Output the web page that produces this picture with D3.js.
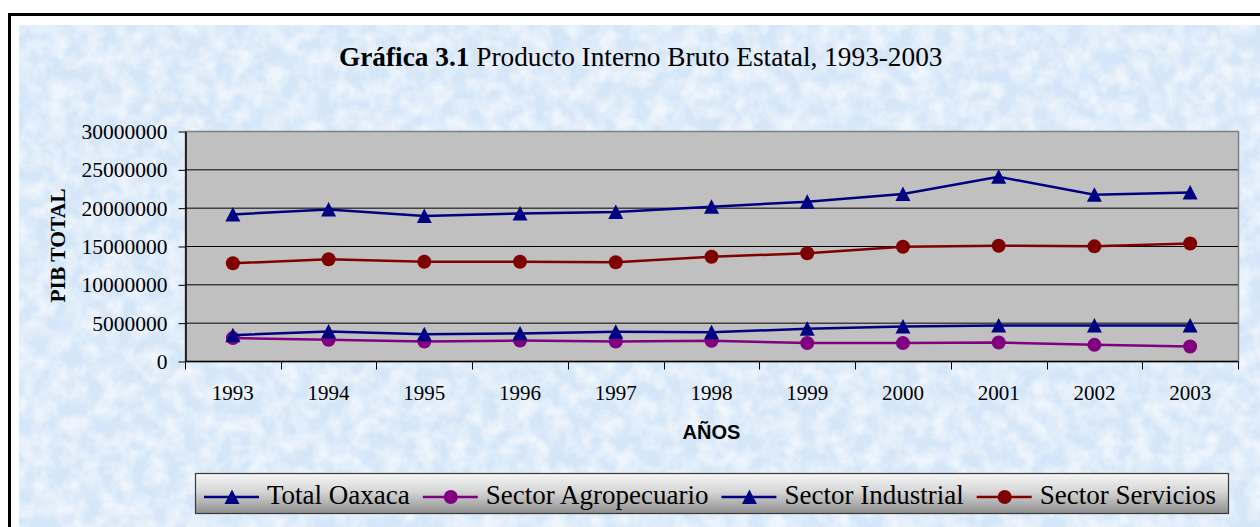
<!DOCTYPE html>
<html>
<head>
<meta charset="utf-8">
<script src="https://cdn.jsdelivr.net/npm/d3@7"></script>
<style>
  body { margin: 0; background: #fff; }
  svg { display: block; }
</style>
</head>
<body>
<div id="chart"></div>
<script>
// data
const years = ['1993', '1994', '1995', '1996', '1997', '1998', '1999', '2000', '2001', '2002', '2003'];
const totalOaxaca = [19190000, 19840000, 18970000, 19320000, 19490000, 20200000, 20830000, 21840000, 24090000, 21750000, 22050000];
const sectorAgropecuario = [3050000, 2830000, 2600000, 2730000, 2600000, 2700000, 2400000, 2400000, 2470000, 2170000, 1950000];
const sectorIndustrial = [3440000, 3900000, 3560000, 3650000, 3870000, 3830000, 4260000, 4560000, 4690000, 4690000, 4690000];
const sectorServicios = [12810000, 13330000, 13020000, 13020000, 12940000, 13670000, 14110000, 14970000, 15100000, 15020000, 15400000];
const yTicks = [0, 5000000, 10000000, 15000000, 20000000, 25000000, 30000000];

const series = [
  { name: 'Total Oaxaca', values: totalOaxaca, color: '#000080', shape: 'triangle' },
  { name: 'Sector Agropecuario', values: sectorAgropecuario, color: '#800080', shape: 'circle' },
  { name: 'Sector Industrial', values: sectorIndustrial, color: '#000080', shape: 'triangle' },
  { name: 'Sector Servicios', values: sectorServicios, color: '#800000', shape: 'circle' }
];

const W = 1260, H = 527;
const serif = '"Liberation Serif", "Times New Roman", serif';
const sans = '"Liberation Sans", Arial, sans-serif';

const svg = d3.select('#chart').append('svg')
  .attr('width', W)
  .attr('height', H);

const defs = svg.append('defs');

// cloudy light-blue paper texture
const tex = defs.append('filter').attr('id', 'clouds')
  .attr('x', 0).attr('y', 0).attr('width', 1).attr('height', 1);
tex.append('feTurbulence')
  .attr('type', 'fractalNoise')
  .attr('baseFrequency', 0.06)
  .attr('numOctaves', 4)
  .attr('seed', 3)
  .attr('result', 'noise');
tex.append('feColorMatrix')
  .attr('in', 'noise')
  .attr('type', 'matrix')
  .attr('values', '0 0 0 0 1  0 0 0 0 1  0 0 0 0 1  0 0 0 -2.2 1.5');

const lg = defs.append('linearGradient').attr('id', 'legendGrad')
  .attr('x1', 0).attr('y1', 0).attr('x2', 0).attr('y2', 1);
lg.append('stop').attr('offset', '0%').attr('stop-color', '#f6f6f6');
lg.append('stop').attr('offset', '45%').attr('stop-color', '#d6d6d6');
lg.append('stop').attr('offset', '100%').attr('stop-color', '#8e8e8e');

// frame + background
svg.append('rect')
  .attr('x', 9.5).attr('y', 14.5)
  .attr('width', W).attr('height', H)
  .attr('fill', '#fff')
  .attr('stroke', '#000')
  .attr('stroke-width', 3);
svg.append('rect')
  .attr('x', 19).attr('y', 25)
  .attr('width', W - 19).attr('height', H - 25)
  .attr('fill', '#d5e6f8');
svg.append('rect')
  .attr('x', 19).attr('y', 25)
  .attr('width', W - 19).attr('height', H - 25)
  .attr('fill', '#fff')
  .attr('filter', 'url(#clouds)')
  .attr('opacity', 0.6);

// title
const title = svg.append('text')
  .attr('x', 339)
  .attr('y', 66)
  .attr('font-family', serif)
  .attr('font-size', 27.3)
  .attr('fill', '#000');
title.append('tspan').attr('font-weight', 'bold').text('Gráfica 3.1');
title.append('tspan').text(' Producto Interno Bruto Estatal, 1993-2003');

// scales
const x = d3.scaleBand()
  .domain(years)
  .range([185, 1238]);

const y = d3.scaleLinear()
  .domain([0, 30000000])
  .range([361.5, 131.5]);

// plot area
svg.append('rect')
  .attr('x', x.range()[0] + 0.5)
  .attr('y', y(30000000))
  .attr('width', x.range()[1] - x.range()[0])
  .attr('height', y(0) - y(30000000))
  .attr('fill', '#c0c0c0')
  .attr('stroke', '#808080')
  .attr('stroke-width', 1.5);

// gridlines
svg.append('g')
  .selectAll('line')
  .data(yTicks.filter(d => d > 0 && d < 30000000))
  .enter()
  .append('line')
  .attr('x1', x.range()[0])
  .attr('x2', x.range()[1])
  .attr('y1', d => y(d))
  .attr('y2', d => y(d))
  .attr('stroke', '#000')
  .attr('stroke-width', 1);

// y-axis
const yAxis = svg.append('g')
  .attr('transform', `translate(${x.range()[0] + 0.5}, 0)`)
  .call(d3.axisLeft(y).tickValues(yTicks).tickFormat(d3.format('d')).tickSize(7).tickSizeOuter(0).tickPadding(11));
yAxis.select('.domain').attr('stroke', '#000').attr('stroke-width', 1.5);
yAxis.selectAll('line').attr('stroke', '#000');
yAxis.selectAll('text')
  .attr('font-family', serif)
  .attr('font-size', 21.5)
  .attr('fill', '#000');

// x-axis: labels centred in the bands, ticks on the band boundaries
const xAxis = svg.append('g')
  .attr('transform', `translate(0, ${y(0)})`)
  .call(d3.axisBottom(x).tickSize(0).tickPadding(24));
xAxis.select('.domain').remove();
xAxis.selectAll('text')
  .attr('font-family', serif)
  .attr('font-size', 21)
  .attr('fill', '#000');

svg.append('line')
  .attr('x1', x.range()[0]).attr('x2', x.range()[1])
  .attr('y1', y(0)).attr('y2', y(0))
  .attr('stroke', '#000')
  .attr('stroke-width', 1.5);

svg.append('g')
  .selectAll('line')
  .data(years.map(d => x(d)).concat([x.range()[1]]))
  .enter()
  .append('line')
  .attr('x1', d => Math.round(d) + 0.5)
  .attr('x2', d => Math.round(d) + 0.5)
  .attr('y1', y(0))
  .attr('y2', y(0) + 8)
  .attr('stroke', '#000');

// axis titles
svg.append('text')
  .attr('transform', 'translate(65, 245.5) rotate(-90)')
  .attr('text-anchor', 'middle')
  .attr('font-family', serif)
  .attr('font-weight', 'bold')
  .attr('font-size', 21.5)
  .text('PIB TOTAL');

svg.append('text')
  .attr('x', (x.range()[0] + x.range()[1]) / 2)
  .attr('y', 438.5)
  .attr('text-anchor', 'middle')
  .attr('font-family', sans)
  .attr('font-weight', 'bold')
  .attr('font-size', 20)
  .text('AÑOS');

// markers
const triangle = 'M0,-7.5L7.5,7L-7.5,7Z';
function drawMarker(g, shape, color) {
  if (shape === 'triangle') {
    g.append('path').attr('d', triangle).attr('fill', color);
  } else {
    g.append('circle').attr('r', 7).attr('fill', color);
  }
}

// lines
const line = d3.line()
  .x((d, i) => x(years[i]) + x.bandwidth() / 2)
  .y(d => y(d));

series.forEach(s => {
  const g = svg.append('g');
  g.append('path')
    .datum(s.values)
    .attr('d', line)
    .attr('fill', 'none')
    .attr('stroke', s.color)
    .attr('stroke-width', 2.5);
  g.selectAll('g.pt')
    .data(s.values)
    .enter()
    .append('g')
    .attr('class', 'pt')
    .attr('transform', (d, i) => `translate(${x(years[i]) + x.bandwidth() / 2}, ${y(d)})`)
    .each(function () { drawMarker(d3.select(this), s.shape, s.color); });
});

// legend
svg.append('rect')
  .attr('x', 195.5).attr('y', 473.5)
  .attr('width', 1033).attr('height', 40)
  .attr('fill', 'url(#legendGrad)')
  .attr('stroke', '#3a3a3a')
  .attr('stroke-width', 1.2);

let lx = 204;
series.forEach(s => {
  const item = svg.append('g').attr('transform', `translate(${lx}, 497)`);
  item.append('line')
    .attr('x1', 0).attr('x2', 55)
    .attr('y1', 0).attr('y2', 0)
    .attr('stroke', s.color)
    .attr('stroke-width', 2.5);
  drawMarker(item.append('g').attr('transform', 'translate(28, 0)'), s.shape, s.color);
  const t = item.append('text')
    .attr('x', 63)
    .attr('y', 7)
    .attr('font-family', serif)
    .attr('font-size', 27)
    .attr('fill', '#000')
    .text(s.name);
  lx += 63 + t.node().getComputedTextLength() + 13;
});
</script>
</body>
</html>
